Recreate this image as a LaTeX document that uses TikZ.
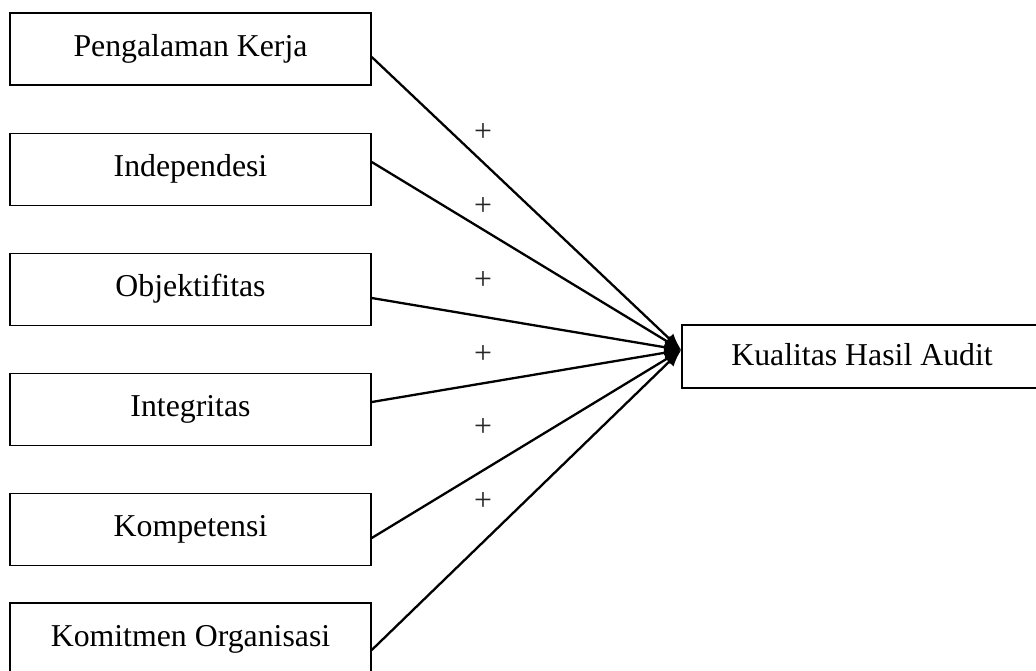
\documentclass[tikz,border=0pt]{standalone}
\usepackage{fontspec}
\setmainfont{Liberation Serif}
\usetikzlibrary{arrows.meta}
\begin{document}
\begin{tikzpicture}[x=1pt,y=-1pt,
  box/.style={draw, line width=1.5pt, minimum width=361pt, minimum height=72pt,
    inner sep=0pt, text height=22pt, text depth=8pt,
    font=\fontsize{31.8}{38}\selectfont},
  target/.style={box, minimum width=360pt, minimum height=63pt, text depth=5pt},
  plus/.style={inner sep=0pt, text=black!85, font=\fontsize{31.8}{38}\selectfont},
  link/.style={line width=2.3pt, -{Latex[length=17pt,width=13pt]}}]
\useasboundingbox (0,0) rectangle (1036,670);
\clip (0,0) rectangle (1036,670);
\node[box] (b1) at (190.5,49) {Pengalaman Kerja};
\node[box] (b2) at (190.5,169.5) {Independesi};
\node[box] (b3) at (190.5,289.5) {Objektifitas};
\node[box] (b4) at (190.5,409.5) {Integritas};
\node[box] (b5) at (190.5,529.5) {Kompetensi};
\node[box] (b6) at (190.5,639) {Komitmen Organisasi};
\node[target] (t) at (862,356.5) {Kualitas Hasil Audit};
\coordinate (tip) at ([yshift=6.5pt]t.west);
\draw[link] ([yshift=-8pt]b1.east) -- (tip);
\draw[link] ([yshift=7.5pt]b2.east) -- (tip);
\draw[link] ([yshift=-8.5pt]b3.east) -- (tip);
\draw[link] ([yshift=7.5pt]b4.east) -- (tip);
\draw[link] ([yshift=-8.5pt]b5.east) -- (tip);
\draw[link] ([yshift=-11pt]b6.east) -- (tip);
\node[plus] (p1) at (483,133) {+};
\node[plus] (p2) at (483,207) {+};
\node[plus] (p3) at (483,281) {+};
\node[plus] (p4) at (483,355) {+};
\node[plus] (p5) at (483,428) {+};
\node[plus] (p6) at (483,502) {+};
\end{tikzpicture}
\end{document}
